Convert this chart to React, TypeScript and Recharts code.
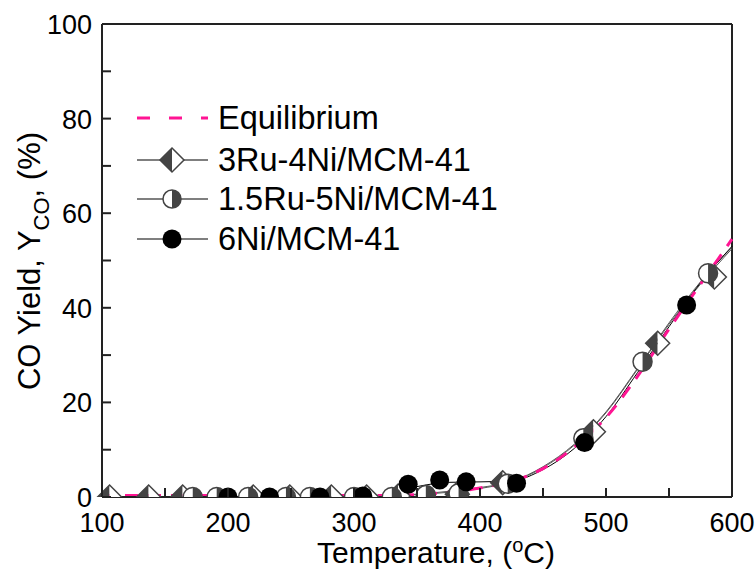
import React from "react";
import { LineChart, Line, XAxis, YAxis, ReferenceLine } from "recharts";

const FONT = "'Liberation Sans', Arial, sans-serif";
const PINK = "#ff1493";
const DARK = "#444";

// ticks
const X_TICKS = [100, 150, 200, 250, 300, 350, 400, 450, 500, 550, 600];
const Y_TICKS = [0, 10, 20, 30, 40, 50, 60, 70, 80, 90, 100];

// measured points
const T_3RU = [106, 137, 164, 220, 249, 282, 310, 335, 382, 418, 490, 541, 586];
const Y_3RU = [0, 0, 0, 0, 0, 0, 0, 0.2, 0.6, 3.0, 13.8, 32.5, 46.5];

const T_15RU = [172, 191, 216, 246, 265, 300, 330, 357, 383, 422, 482, 529, 581];
const Y_15RU = [0, 0, 0, 0, 0, 0, 0, 0.4, 0.8, 2.8, 12.4, 28.6, 47.3];

const T_6NI = [200, 233, 273, 307, 343, 368, 389, 429, 483, 564];
const Y_6NI = [0, 0, 0, 0.2, 2.7, 3.6, 3.2, 2.9, 11.5, 40.6];

// fitted curves + equilibrium
const T_CURVE = [100, 150, 200, 250, 300, 325, 350, 375, 400, 425, 450, 475, 500, 525, 550, 575, 600];
const FIT_6NI = [0, 0, 0, 0, 0.1, 0.6, 2.2, 3.1, 3.2, 3.4, 5.8, 10.3, 17.0, 26.3, 36.0, 45.3, 53.0];
const FIT_3RU = [0, 0, 0, 0, 0, 0.2, 0.5, 1.0, 1.8, 3.2, 6.2, 11.0, 17.8, 27.0, 36.5, 45.0, 52.5];
const FIT_15RU = [0, 0, 0, 0, 0, 0.2, 0.6, 1.2, 2.0, 3.3, 6.4, 11.2, 18.0, 27.2, 36.8, 45.5, 52.8];
const EQUIL = [0.3, 0.3, 0.3, 0.3, 0.3, 0.3, 0.5, 1.0, 1.9, 3.3, 6.0, 10.6, 16.8, 25.5, 35.5, 45.0, 54.5];

const pts = (ts: number[], ys: number[]) => ts.map((t, i) => ({ T: t, y: ys[i] }));

function diamondShape(cx: number, cy: number, s: number, key?: string) {
  return (
    <g key={key}>
      <path d={`M${cx},${cy - s} L${cx},${cy + s} L${cx - s},${cy} Z`} fill={DARK} />
      <path d={`M${cx},${cy - s} L${cx + s},${cy} L${cx},${cy + s} Z`} fill="#fff" />
      <path
        d={`M${cx},${cy - s} L${cx + s},${cy} L${cx},${cy + s} L${cx - s},${cy} Z`}
        fill="none"
        stroke={DARK}
        strokeWidth={1.5}
      />
    </g>
  );
}

function halfCircleShape(cx: number, cy: number, r: number, key?: string) {
  return (
    <g key={key}>
      <circle cx={cx} cy={cy} r={r} fill="#fff" />
      <path d={`M${cx},${cy - r} A${r},${r} 0 0 1 ${cx},${cy + r} Z`} fill={DARK} />
      <circle cx={cx} cy={cy} r={r} fill="none" stroke={DARK} strokeWidth={1.5} />
    </g>
  );
}

const DiamondDot = (p: any) =>
  p.cx == null ? null : diamondShape(p.cx, p.cy, 12, `d${p.index}`);
const HalfDot = (p: any) =>
  p.cx == null ? null : halfCircleShape(p.cx, p.cy, 9.5, `h${p.index}`);
const BlackDot = (p: any) =>
  p.cx == null ? null : <circle key={`b${p.index}`} cx={p.cx} cy={p.cy} r={9.5} fill="#000" />;

function XTick({ x, y, payload }: any) {
  const v = payload.value;
  return (
    <g>
      <line x1={x} x2={x} y1={y} y2={y - 9} stroke="#222" strokeWidth={2} />
      {v % 100 === 0 && (
        <text x={x} y={y + 35} textAnchor="middle" fontSize={27} fontFamily={FONT} fill="#000">
          {v}
        </text>
      )}
    </g>
  );
}

function YTick({ x, y, payload }: any) {
  const v = payload.value;
  return (
    <g>
      <line x1={x} x2={x + 9} y1={y} y2={y} stroke="#222" strokeWidth={2} />
      {v % 20 === 0 && (
        <text x={x - 10} y={y + 10} textAnchor="end" fontSize={27} fontFamily={FONT} fill="#000">
          {v}
        </text>
      )}
    </g>
  );
}

function Legend() {
  const x0 = 137;
  const x1 = 208;
  const mx = 172;
  const tx = 218;
  const rows = [118, 160, 199, 239];
  const labels = ["Equilibrium", "3Ru-4Ni/MCM-41", "1.5Ru-5Ni/MCM-41", "6Ni/MCM-41"];
  return (
    <svg width={756} height={569} style={{ position: "absolute", left: 0, top: 0, pointerEvents: "none" }}>
      <line x1={x0} x2={x1} y1={rows[0]} y2={rows[0]} stroke={PINK} strokeWidth={3} strokeDasharray="13 19" />
      {[1, 2, 3].map((i) => (
        <line key={i} x1={x0} x2={x1} y1={rows[i]} y2={rows[i]} stroke="#555" strokeWidth={1.5} />
      ))}
      {diamondShape(mx, rows[1], 12)}
      {halfCircleShape(mx, rows[2], 9)}
      <circle cx={mx} cy={rows[3]} r={9.5} fill="#000" />
      {labels.map((l, i) => (
        <text key={l} x={tx} y={rows[i] + 11} fontSize={32.5} fontFamily={FONT} fill="#000">
          {l}
        </text>
      ))}
    </svg>
  );
}

export default function App() {
  return (
    <div style={{ position: "absolute", left: 0, top: 0, width: 756, height: 569, background: "#fff" }}>
      <LineChart width={756} height={569} margin={{ top: 24, right: 24, bottom: 0, left: 0 }}>
        <XAxis
          type="number"
          dataKey="T"
          domain={[100, 600]}
          ticks={X_TICKS}
          tick={<XTick />}
          tickSize={0}
          tickMargin={0}
          height={72}
          axisLine={{ stroke: "#222", strokeWidth: 2 }}
          label={{
            content: () => (
              <text x={436} y={563} textAnchor="middle" fontSize={30} fontFamily={FONT} fill="#000">
                Temperature, (<tspan dy={-11} fontSize={20}>o</tspan>
                <tspan dy={11}>C)</tspan>
              </text>
            ),
          }}
        />
        <YAxis
          type="number"
          domain={[0, 100]}
          ticks={Y_TICKS}
          tick={<YTick />}
          tickSize={0}
          tickMargin={0}
          width={102}
          allowDataOverflow
          axisLine={{ stroke: "#222", strokeWidth: 2 }}
          label={{
            content: () => (
              <text
                x={0}
                y={0}
                transform="translate(40,261) rotate(-90)"
                textAnchor="middle"
                fontSize={31}
                fontFamily={FONT}
                fill="#000"
              >
                CO Yield, Y<tspan dy={9} fontSize={22}>CO</tspan>
                <tspan dy={-9}>, (%)</tspan>
              </text>
            ),
          }}
        />
        <ReferenceLine y={100} stroke="#222" strokeWidth={2} />
        <ReferenceLine x={600} stroke="#222" strokeWidth={2} />

        <Line data={pts(T_3RU, Y_3RU)} dataKey="y" stroke="none" dot={<DiamondDot />} isAnimationActive={false} />
        <Line data={pts(T_15RU, Y_15RU)} dataKey="y" stroke="none" dot={<HalfDot />} isAnimationActive={false} />
        <Line data={pts(T_6NI, Y_6NI)} dataKey="y" stroke="none" dot={<BlackDot />} isAnimationActive={false} />

        <Line data={pts(T_CURVE, FIT_3RU)} dataKey="y" type="monotone" stroke="#555" strokeWidth={1} dot={false} isAnimationActive={false} />
        <Line data={pts(T_CURVE, FIT_15RU)} dataKey="y" type="monotone" stroke="#555" strokeWidth={1} dot={false} isAnimationActive={false} />
        <Line data={pts(T_CURVE, FIT_6NI)} dataKey="y" type="monotone" stroke="#000" strokeWidth={1} dot={false} isAnimationActive={false} />
        <Line
          data={pts(T_CURVE, EQUIL)}
          dataKey="y"
          type="monotone"
          stroke={PINK}
          strokeWidth={3}
          strokeDasharray="13 10"
          dot={false}
          isAnimationActive={false}
        />
      </LineChart>
      <Legend />
    </div>
  );
}
